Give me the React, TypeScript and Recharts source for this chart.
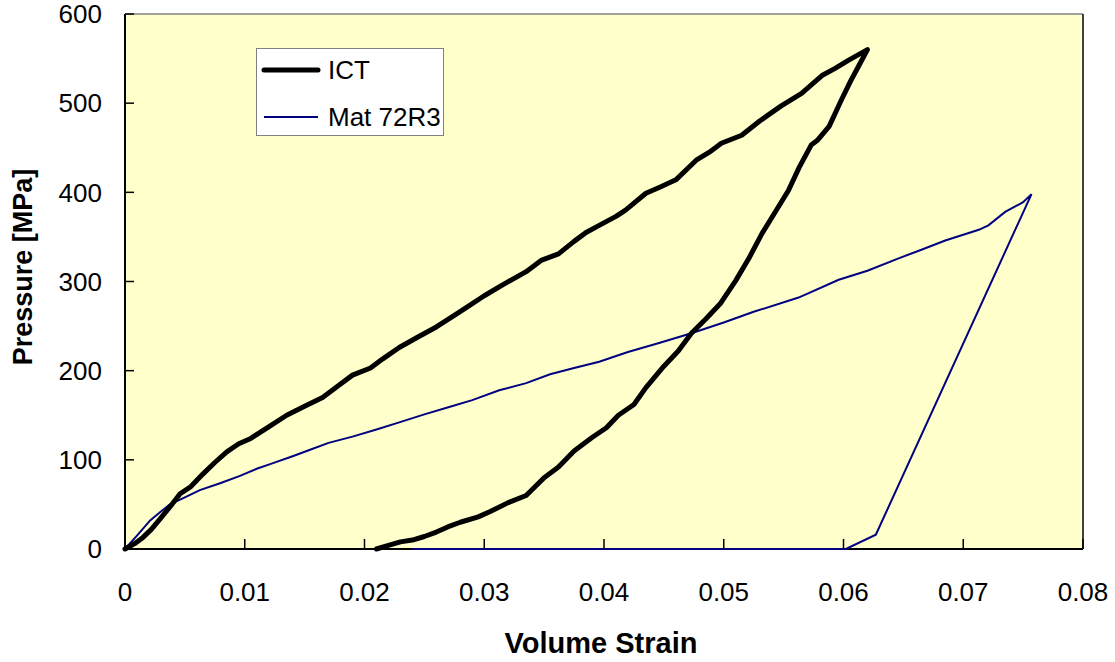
import React from 'react';
import { LineChart, Line, XAxis, YAxis, CartesianGrid, ReferenceLine } from 'recharts';

const xTicks = [0, 0.01, 0.02, 0.03, 0.04, 0.05, 0.06, 0.07, 0.08];
const yTicks = [0, 100, 200, 300, 400, 500, 600];

// ICT: loading then unloading
const ictStrain = [
  0, 0.0008, 0.0015, 0.0022, 0.003, 0.0038, 0.0046, 0.0055, 0.0065, 0.0075, 0.0085, 0.0095, 0.0105, 0.012, 0.0135,
  0.015, 0.0165, 0.018, 0.019, 0.0205, 0.0215, 0.0229, 0.0245, 0.026, 0.0275, 0.02875, 0.03, 0.0315, 0.0335, 0.0348,
  0.0362, 0.0375, 0.0385, 0.0396, 0.041, 0.0418, 0.0435, 0.0447, 0.046, 0.0477, 0.0488, 0.0498, 0.0515, 0.053, 0.0548,
  0.0565, 0.0582, 0.0593, 0.0604, 0.062,
  0.0612, 0.0606, 0.0598, 0.0588, 0.0578, 0.0573, 0.0563, 0.0554, 0.0543, 0.0532, 0.0521, 0.051, 0.0497, 0.0485,
  0.0473, 0.0462, 0.045, 0.0435, 0.0425, 0.0412, 0.0402, 0.039, 0.0375, 0.0362, 0.035, 0.0335, 0.032, 0.0305, 0.0295,
  0.028, 0.027, 0.026, 0.025, 0.024, 0.023, 0.022, 0.021,
];
const ictPressure = [
  0, 6, 13, 22, 35, 48, 62, 70, 84, 97, 109, 118, 124, 137, 150,
  160, 170, 185, 195, 203, 213, 226, 238, 249, 262, 273, 284, 296, 311, 324,
  331, 345, 355, 363, 373, 380, 399, 406, 414, 436, 445, 455, 464, 480, 497,
  511, 531, 539, 548, 560,
  540, 525, 503, 474, 458, 453, 428, 402, 378, 354, 326, 301, 275, 258,
  242, 222, 205, 181, 162, 150, 136, 125, 110, 92, 80, 60, 52, 42, 36,
  30, 25, 19, 14, 10, 8, 4, 0,
];

// Mat 72R3
const matStrain = [
  0, 0.001, 0.0021, 0.003, 0.00375, 0.005, 0.00625, 0.008, 0.0096, 0.011, 0.0123, 0.014, 0.0154, 0.017, 0.019, 0.021,
  0.0229, 0.025, 0.027, 0.029, 0.03125, 0.0335, 0.0355, 0.0375, 0.0396, 0.042, 0.0446, 0.0473, 0.05, 0.0525, 0.05625,
  0.0596, 0.062, 0.0646, 0.0664, 0.0685, 0.0713, 0.0721, 0.0735, 0.075, 0.0757,
  0.0627, 0.0602, 0.024,
];
const matPressure = [
  0, 15, 32, 42, 50, 58, 66, 74, 82, 90, 96, 104, 111, 119, 126, 134,
  142, 151, 159, 167, 178, 186, 196, 203, 210, 221, 231, 242, 254, 266, 282,
  302, 312, 326, 335, 346, 358, 363, 378, 389, 398,
  16, 0, 0,
];

const ictData = ictStrain.map((x, i) => ({ x, y: ictPressure[i] }));
const matData = matStrain.map((x, i) => ({ x, y: matPressure[i] }));

const FONT = '"Liberation Sans", Arial, sans-serif';

const LegendBox = () => (
  <svg width={188} height={88} style={{ display: 'block', position: 'absolute', left: 256, top: 48 }}>
    <rect x={0.5} y={0.5} width={187} height={87} fill="#ffffff" stroke="#808080" strokeWidth={1} />
    <line x1={8} y1={22} x2={62} y2={22} stroke="#000000" strokeWidth={5} strokeLinecap="round" />
    <text x={72} y={31} fontSize={26} fontFamily={FONT} fill="#000">ICT</text>
    <line x1={8} y1={69} x2={62} y2={69} stroke="#000080" strokeWidth={2} />
    <text x={72} y={78} fontSize={26} fontFamily={FONT} fill="#000">Mat 72R3</text>
  </svg>
);

const XTitle = (props: any) => {
  const vb = props.viewBox || {};
  return (
    <text x={vb.x + vb.width / 2 - 3} y={653} textAnchor="middle" fontSize={29} fontWeight="bold" fontFamily={FONT} fill="#000">
      Volume Strain
    </text>
  );
};

const YTitle = () => (
  <text x={32} y={267} transform="rotate(-90, 32, 267)" textAnchor="middle" fontSize={27} fontWeight="bold" fontFamily={FONT} fill="#000">
    Pressure [MPa]
  </text>
);

export default function App() {
  return (
    <div style={{ position: 'absolute', left: 0, top: 0, width: 1115, height: 662, background: '#fff', fontFamily: FONT }}>
      <LineChart width={1115} height={662} margin={{ top: 14, right: 32, bottom: 0, left: 0 }}>
        <CartesianGrid
          fill="#FFFFCC"
          stroke="#000"
          strokeWidth={2}
          horizontalValues={[0]}
          verticalValues={[0]}
        />
        <XAxis
          type="number"
          dataKey="x"
          domain={[0, 0.08]}
          ticks={xTicks}
          interval={0}
          height={113}
          tickSize={-10}
          tickMargin={44}
          axisLine={false}
          tickLine={{ stroke: '#000', strokeWidth: 1.5 }}
          tick={{ fill: '#000', fontSize: 26, fontFamily: FONT }}
          tickFormatter={(v: number) => String(v)}
          label={<XTitle />}
        />
        <YAxis
          type="number"
          domain={[0, 600]}
          ticks={yTicks}
          interval={0}
          width={125}
          tickSize={-9}
          tickMargin={32}
          axisLine={false}
          tickLine={{ stroke: '#000', strokeWidth: 1.5 }}
          tick={{ fill: '#000', fontSize: 26, fontFamily: FONT }}
          label={<YTitle />}
        />
        <ReferenceLine y={600} stroke="#808080" strokeWidth={1.5} />
        <ReferenceLine x={0.08} stroke="#404040" strokeWidth={2} />
        <Line
          data={matData}
          dataKey="y"
          name="Mat 72R3"
          type="linear"
          stroke="#000080"
          strokeWidth={2}
          dot={false}
          isAnimationActive={false}
        />
        <Line
          data={ictData}
          dataKey="y"
          name="ICT"
          type="linear"
          stroke="#000000"
          strokeWidth={5}
          strokeLinejoin="round"
          strokeLinecap="round"
          dot={false}
          isAnimationActive={false}
        />
      </LineChart>
      <LegendBox />
    </div>
  );
}
